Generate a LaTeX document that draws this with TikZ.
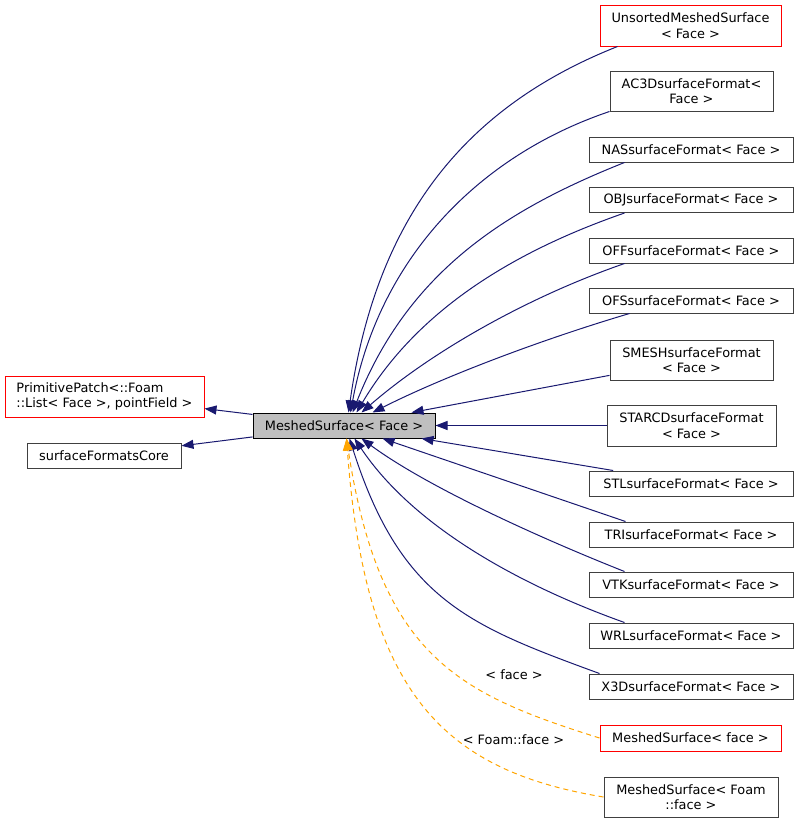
\documentclass[tikz,border=0pt]{standalone}
\usepackage{fontspec}
\setmainfont{DejaVu Sans}
\usetikzlibrary{arrows.meta,calc}
\definecolor{edgeblue}{HTML}{191970}
\definecolor{edgeorange}{HTML}{FFA500}
\definecolor{nodegray}{HTML}{404040}
\definecolor{rootfill}{HTML}{BFBFBF}
\begin{document}
\begin{tikzpicture}[x=1pt,y=-1pt,
  every node/.style={font=\fontsize{12.9}{15.4}\selectfont, inner sep=0pt},
  cls/.style={draw=nodegray, line width=1pt, fill=white, align=center},
  redcls/.style={cls, draw=red},
  rootcls/.style={cls, draw=black, fill=rootfill},
  one/.style={minimum width=204pt, minimum height=25pt},
  inh/.style={draw=edgeblue, line width=1pt, -{Triangle[length=12pt,width=9pt]}},
  tmpl/.style={draw=edgeorange, line width=1pt, dash pattern=on 5pt off 4pt, -{Triangle[length=12pt,width=9pt]}}
]
\useasboundingbox (0,0) rectangle (799,823);

% root
\node[rootcls, minimum width=182pt, minimum height=25pt] (msf) at (344,425.5) {MeshedSurface< Face >};
% bases
\node[redcls, minimum width=199pt, minimum height=41pt, align=left] (pp) at (104.5,396.5) {PrimitivePatch<::Foam\\::List< Face >, pointField >};
\node[cls, minimum width=154pt, minimum height=25pt] (sfc) at (104,455.5) {surfaceFormatsCore};

% derived
\node[redcls, minimum width=181pt, minimum height=41pt] (uns) at (690.5,25.5) {UnsortedMeshedSurface\\< Face >};
\node[cls, minimum width=163pt, minimum height=40pt] (ac3d) at (691.5,91) {AC3DsurfaceFormat<\\Face >};
\node[cls, one] (nas) at (691,149.5) {NASsurfaceFormat< Face >};
\node[cls, one] (obj) at (691,200) {OBJsurfaceFormat< Face >};
\node[cls, one] (off) at (691,250.5) {OFFsurfaceFormat< Face >};
\node[cls, one] (ofs) at (691,300.5) {OFSsurfaceFormat< Face >};
\node[cls, minimum width=163pt, minimum height=40pt] (smesh) at (691.5,360) {SMESHsurfaceFormat\\< Face >};
\node[cls, minimum width=169pt, minimum height=41pt] (starcd) at (691.5,425.5) {STARCDsurfaceFormat\\< Face >};
\node[cls, one] (stl) at (691,483.5) {STLsurfaceFormat< Face >};
\node[cls, one] (tri) at (691,534.5) {TRIsurfaceFormat< Face >};
\node[cls, one] (vtk) at (691,584.5) {VTKsurfaceFormat< Face >};
\node[cls, one] (wrl) at (691,635.5) {WRLsurfaceFormat< Face >};
\node[cls, one] (x3d) at (691,686.5) {X3DsurfaceFormat< Face >};
\node[redcls, minimum width=181pt, minimum height=26pt] (msface) at (690.5,738) {MeshedSurface< face >};
\node[cls, minimum width=174pt, minimum height=40pt] (msfoam) at (691,797) {MeshedSurface< Foam\\::face >};

% labels
\node (lface) at (514,675) {< face >};
\node (lfoam) at (513.5,740) {< Foam::face >};

% base edges
\draw[inh] (msf) -- (pp);
\draw[inh] (msf) -- (sfc);

% derived edges
\draw[inh] ([xshift=18pt]uns.south west) .. controls (470,105) and (377,212) .. ([xshift=96pt]msf.north west);
\draw[inh] (ac3d.south west) .. controls (475,157) and (378,262) .. ([xshift=98pt]msf.north west);
\draw[inh] ([xshift=36pt]nas.south west) .. controls (505,210) and (408,272) .. ([xshift=100pt]msf.north west);
\draw[inh] ([xshift=36pt]obj.south west) .. controls (515,251) and (418,309) .. ([xshift=104pt]msf.north west);
\draw[inh] ([xshift=36pt]off.south west) .. controls (525,298) and (430,353) .. ([xshift=109pt]msf.north west);
\draw[inh] ([xshift=41pt]ofs.south west) .. controls (540,340) and (443,377) .. ([xshift=120pt]msf.north west);
\draw[inh] (smesh) -- ([xshift=159pt]msf.north west);
\draw[inh] (starcd) -- (msf);
\draw[inh] (stl) -- ([xshift=169pt]msf.south west);
\draw[inh] ([xshift=37pt]tri.north west) -- ([xshift=130pt]msf.south west);
\draw[inh] ([xshift=36pt]vtk.north west) .. controls (535,536) and (426,486) .. ([xshift=109pt]msf.south west);
\draw[inh] ([xshift=36pt]wrl.north west) .. controls (525,587) and (415,529) .. ([xshift=102pt]msf.south west);
\draw[inh] ([xshift=11pt]x3d.north west) .. controls (470,626) and (401,600) .. ([xshift=97pt]msf.south west);

% template edges
\draw[tmpl] (msface.west) .. controls (460,694) and (380,658) .. ([xshift=94pt]msf.south west);
\draw[tmpl] (msfoam.west) .. controls (440,770) and (365,690) .. ([xshift=94pt]msf.south west);
\end{tikzpicture}
\end{document}
